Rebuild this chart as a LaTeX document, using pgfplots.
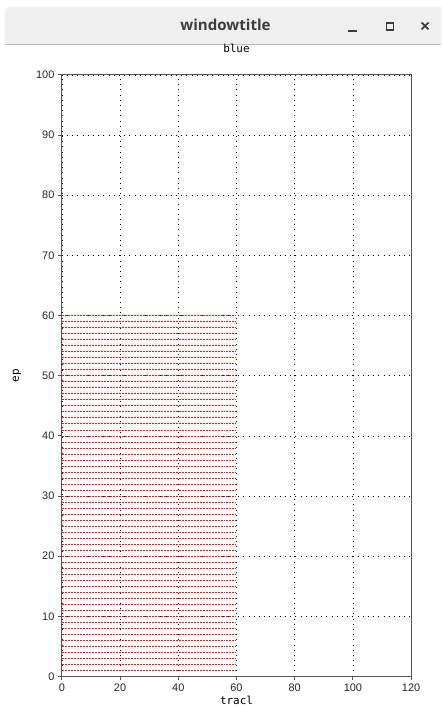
\documentclass[border=0pt]{standalone}
\usepackage{fontspec}
\usepackage{pgfplots}
\pgfplotsset{compat=1.18}
\setmainfont{Liberation Sans}
\newfontfamily\monofont{DejaVu Sans Mono}
\newfontfamily\wtfont{Open Sans}
\definecolor{barfill}{HTML}{EFEFEF}
\definecolor{barline}{HTML}{BDBDBD}
\definecolor{wtext}{HTML}{3C3C3C}
\definecolor{axgray}{HTML}{555555}
\definecolor{trace}{HTML}{FF1010}
\begin{document}
\begin{tikzpicture}
\begin{scope}[x=1bp,y=1bp]
% canvas
\fill[white] (0,0) rectangle (442,708);
% window title bar
\fill[barfill] (5,663) -- (5,696) arc[start angle=180,end angle=90,radius=5] -- (442,701) -- (442,663) -- cycle;
\draw[barline, line width=1.5bp] (5,663.5) -- (442,663.5);
\node[text=wtext, font=\wtfont\bfseries\fontsize{15.2}{17}\selectfont] at (226,683) {windowtitle};
\draw[wtext, line width=2bp] (349,677) -- (358,677);
\draw[wtext, line width=1.7bp] (387.5,678) rectangle (394.5,685);
\draw[wtext, line width=1.7bp] (422.5,678.5) -- (429.5,685.5) (422.5,685.5) -- (429.5,678.5);
\end{scope}
\begin{axis}[
  at={(62bp,30bp)}, anchor=south west,
  scale only axis, width=350bp, height=603bp,
  xmin=0, xmax=120, ymin=0, ymax=100,
  xtick={0,20,...,120}, ytick={0,10,...,100},
  tick align=outside, xtick pos=bottom, ytick pos=left,
  major tick length=4bp,
  axis line style={draw=axgray, line width=1.1bp},
  tick style={draw=axgray, line width=0.9bp},
  grid=major,
  major grid style={black, line width=0.6bp, dash pattern=on 0.8bp off 4.4bp},
  ticklabel style={font=\fontsize{11}{12}\selectfont, text=black!85},
  /pgf/number format/assume math mode=true,
  title={blue},
  title style={font=\monofont\fontsize{11}{12}\selectfont, at={(axis description cs:0.5,1.0332)}, anchor=center},
  xlabel={tracl},
  xlabel style={font=\monofont\fontsize{11}{12}\selectfont, at={(axis description cs:0.5,-0.0398)}, anchor=center},
  ylabel={ep},
  ylabel style={font=\monofont\fontsize{11}{12}\selectfont, at={(axis description cs:-0.1286,0.5)}, anchor=center},
  unbounded coords=jump,
]
% one horizontal trace per ep value, each running from tracl 0 to 60;
% the nan rows break the path between traces
\addplot[draw=trace, line width=0.6bp, dash pattern=on 2bp off 1bp, mark=none] coordinates {
(0,1)(60,1)(nan,nan)(0,2)(60,2)(nan,nan)(0,3)(60,3)(nan,nan)(0,4)(60,4)(nan,nan)(0,5)(60,5)(nan,nan)
(0,6)(60,6)(nan,nan)(0,7)(60,7)(nan,nan)(0,8)(60,8)(nan,nan)(0,9)(60,9)(nan,nan)(0,10)(60,10)(nan,nan)
(0,11)(60,11)(nan,nan)(0,12)(60,12)(nan,nan)(0,13)(60,13)(nan,nan)(0,14)(60,14)(nan,nan)(0,15)(60,15)(nan,nan)
(0,16)(60,16)(nan,nan)(0,17)(60,17)(nan,nan)(0,18)(60,18)(nan,nan)(0,19)(60,19)(nan,nan)(0,20)(60,20)(nan,nan)
(0,21)(60,21)(nan,nan)(0,22)(60,22)(nan,nan)(0,23)(60,23)(nan,nan)(0,24)(60,24)(nan,nan)(0,25)(60,25)(nan,nan)
(0,26)(60,26)(nan,nan)(0,27)(60,27)(nan,nan)(0,28)(60,28)(nan,nan)(0,29)(60,29)(nan,nan)(0,30)(60,30)(nan,nan)
(0,31)(60,31)(nan,nan)(0,32)(60,32)(nan,nan)(0,33)(60,33)(nan,nan)(0,34)(60,34)(nan,nan)(0,35)(60,35)(nan,nan)
(0,36)(60,36)(nan,nan)(0,37)(60,37)(nan,nan)(0,38)(60,38)(nan,nan)(0,39)(60,39)(nan,nan)(0,40)(60,40)(nan,nan)
(0,41)(60,41)(nan,nan)(0,42)(60,42)(nan,nan)(0,43)(60,43)(nan,nan)(0,44)(60,44)(nan,nan)(0,45)(60,45)(nan,nan)
(0,46)(60,46)(nan,nan)(0,47)(60,47)(nan,nan)(0,48)(60,48)(nan,nan)(0,49)(60,49)(nan,nan)(0,50)(60,50)(nan,nan)
(0,51)(60,51)(nan,nan)(0,52)(60,52)(nan,nan)(0,53)(60,53)(nan,nan)(0,54)(60,54)(nan,nan)(0,55)(60,55)(nan,nan)
(0,56)(60,56)(nan,nan)(0,57)(60,57)(nan,nan)(0,58)(60,58)(nan,nan)(0,59)(60,59)(nan,nan)(0,60)(60,60)
};
\end{axis}
\end{tikzpicture}
\end{document}
